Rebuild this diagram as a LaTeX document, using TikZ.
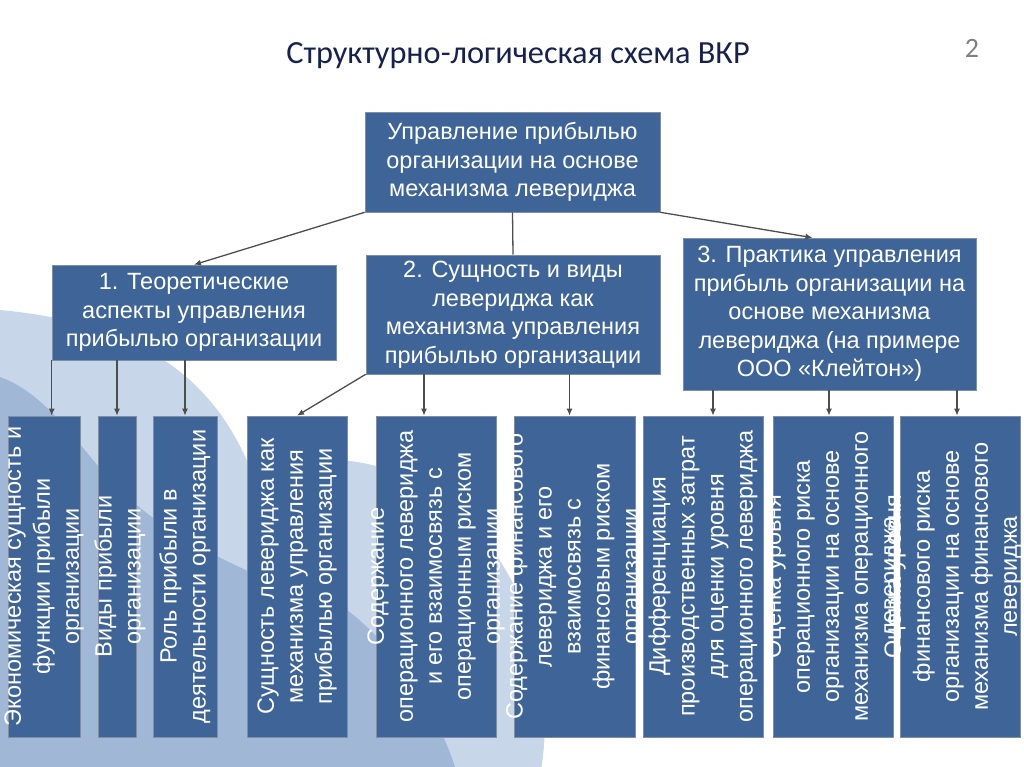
\documentclass[tikz,border=0pt]{standalone}
\usepackage{fontspec}
\setmainfont{Liberation Sans}
\newfontfamily\titlefont{Carlito}
\usepackage{tikz}
\usetikzlibrary{positioning,arrows.meta}

\definecolor{boxblue}{RGB}{62,100,152}
\definecolor{boxedge}{RGB}{128,142,165}
\definecolor{arrowgray}{RGB}{77,77,77}
\definecolor{bglight}{RGB}{200,214,233}
\definecolor{bgmid}{RGB}{160,183,214}
\definecolor{titleblue}{RGB}{22,34,76}

\tikzset{
  blk/.style={fill=boxblue, draw=boxedge, line width=0.6pt, text=white, align=center,
    inner sep=0pt, font=\fontsize{23.5}{28.5}\selectfont},
  vblk/.style={fill=boxblue, draw=boxedge, line width=0.6pt, inner sep=0pt},
  vtxt/.style={rotate=90, text=white, align=center, inner sep=0pt,
    font=\fontsize{23.5}{29}\selectfont},
  arr/.style={->, draw=arrowgray, line width=1.3pt},
}

\begin{document}
\begin{tikzpicture}[x=1pt, y=-1pt, >={Latex[length=7pt,width=6pt]}]
	\useasboundingbox (0,0) rectangle (1024,767);
	
	% background waves
	\begin{scope}
		\clip (0,0) rectangle (1024,767);
		\fill[bglight] (0,310) .. controls (130,322) and (210,370) .. (250,468) -- (300,620) -- (300,767) -- (0,767) -- cycle;
		\fill[bglight] (330,720) ellipse (215 and 260);
		\fill[bgmid] (0,377) .. controls (50,395) and (80,450) .. (120,490) .. controls (170,540) and (260,580) .. (347,610) .. controls (400,650) and (440,720) .. (455,767) -- (0,767) -- cycle;
	\end{scope}
	
	\node[font=\titlefont\fontsize{32.3}{38}\selectfont, text=titleblue] (title) at (518,56) {Структурно-логическая схема ВКР};
	\node[font=\titlefont\fontsize{28}{32}\selectfont, text=gray] (pgnum) at (972,48) {2};
	
	% upper levels
	\node[blk, minimum width=295pt, minimum height=100pt] (top) at (512.5,162) {Управление прибылью\\организации на основе\\механизма левериджа};
	\node[blk, minimum width=284pt, minimum height=95pt] (b1) at (194,312.5) {1. Теоретические\\аспекты управления\\прибылью организации};
	\node[blk, minimum width=294pt, minimum height=119pt] (b2) at (513,314.5) {2. Сущность и виды\\левериджа как\\механизма управления\\прибылью организации};
	\node[blk, minimum width=293pt, minimum height=152pt] (b3) at (829.5,314) {3. Практика управления\\прибыль организации на\\основе механизма\\левериджа (на примере\\ООО «Клейтон»)};
	
	% lower level
	\node[vblk, minimum width=72pt, minimum height=321pt] (s1) at (44,576.5) {};
	\node[vtxt] (s1t) at (s1) {Экономическая сущность и\\функции прибыли\\организации};
	\node[vblk, minimum width=38pt, minimum height=321pt] (s2) at (117,576.5) {};
	\node[vtxt] (s2t) at ([xshift=3pt]s2) {Виды прибыли\\организации};
	\node[vblk, minimum width=64pt, minimum height=321pt] (s3) at (185,576.5) {};
	\node[vtxt] (s3t) at (s3) {Роль прибыли в\\деятельности организации};
	\node[vblk, minimum width=100pt, minimum height=321pt] (s4) at (297,576.5) {};
	\node[vtxt] (s4t) at (s4) {Сущность левериджа как\\механизма управления\\прибылью организации};
	\node[vblk, minimum width=120pt, minimum height=321pt] (s5) at (436,576.5) {};
	\node[vtxt] (s5t) at (s5) {Содержание\\операционного левериджа\\и его взаимосвязь с\\операционным риском\\организации};
	\node[vblk, minimum width=121pt, minimum height=321pt] (s6) at (574.5,576.5) {};
	\node[vtxt] (s6t) at (s6) {Содержание финансового\\левериджа и его\\взаимосвязь с\\финансовым риском\\организации};
	\node[vblk, minimum width=120pt, minimum height=321pt] (s7) at (703,576.5) {};
	\node[vtxt] (s7t) at (s7) {Дифференциация\\производственных затрат\\для оценки уровня\\операционного левериджа};
	\node[vblk, minimum width=120pt, minimum height=321pt] (s8) at (833,576.5) {};
	\node[vtxt] (s8t) at (s8) {Оценка уровня\\операционного риска\\организации на основе\\механизма операционного\\левериджа};
	\node[vblk, minimum width=120pt, minimum height=321pt] (s9) at (960,576.5) {};
	\node[vtxt] (s9t) at ([xshift=-7pt]s9) {Оценка уровня\\финансового риска\\организации на основе\\механизма финансового\\левериджа};
	
	% arrow ends
	\coordinate (e3) at ([xshift=-17pt]b3.north);
	\coordinate (e5) at ([xshift=-12pt]s5.north);
	\coordinate (e6) at ([xshift=-5pt]s6.north);
	\coordinate (e7) at ([xshift=10pt]s7.north);
	\coordinate (e8) at ([xshift=-4pt]s8.north);
	\coordinate (e9) at ([xshift=-3pt]s9.north);
	
	\draw[arr] (top.south west) -- (b1.north);
	\draw[draw=arrowgray, line width=1.3pt] (top.south) -- (b2.north);
	\draw[arr] (top.south east) -- (e3);
	
	\draw[arr] (b1.south west) -- (b1.south west |- s1.north);
	\draw[arr] (b1.south -| s2.north) -- (s2.north);
	\draw[arr] (b1.south -| s3.north) -- (s3.north);
	
	\draw[arr] (b2.south west) -- (s4.north);
	\draw[arr] (b2.south -| e5) -- (e5);
	\draw[arr] (b2.south -| e6) -- (e6);
	
	\draw[arr] (b3.south -| e7) -- (e7);
	\draw[arr] (b3.south -| e8) -- (e8);
	\draw[arr] (b3.south -| e9) -- (e9);
\end{tikzpicture}
\end{document}
